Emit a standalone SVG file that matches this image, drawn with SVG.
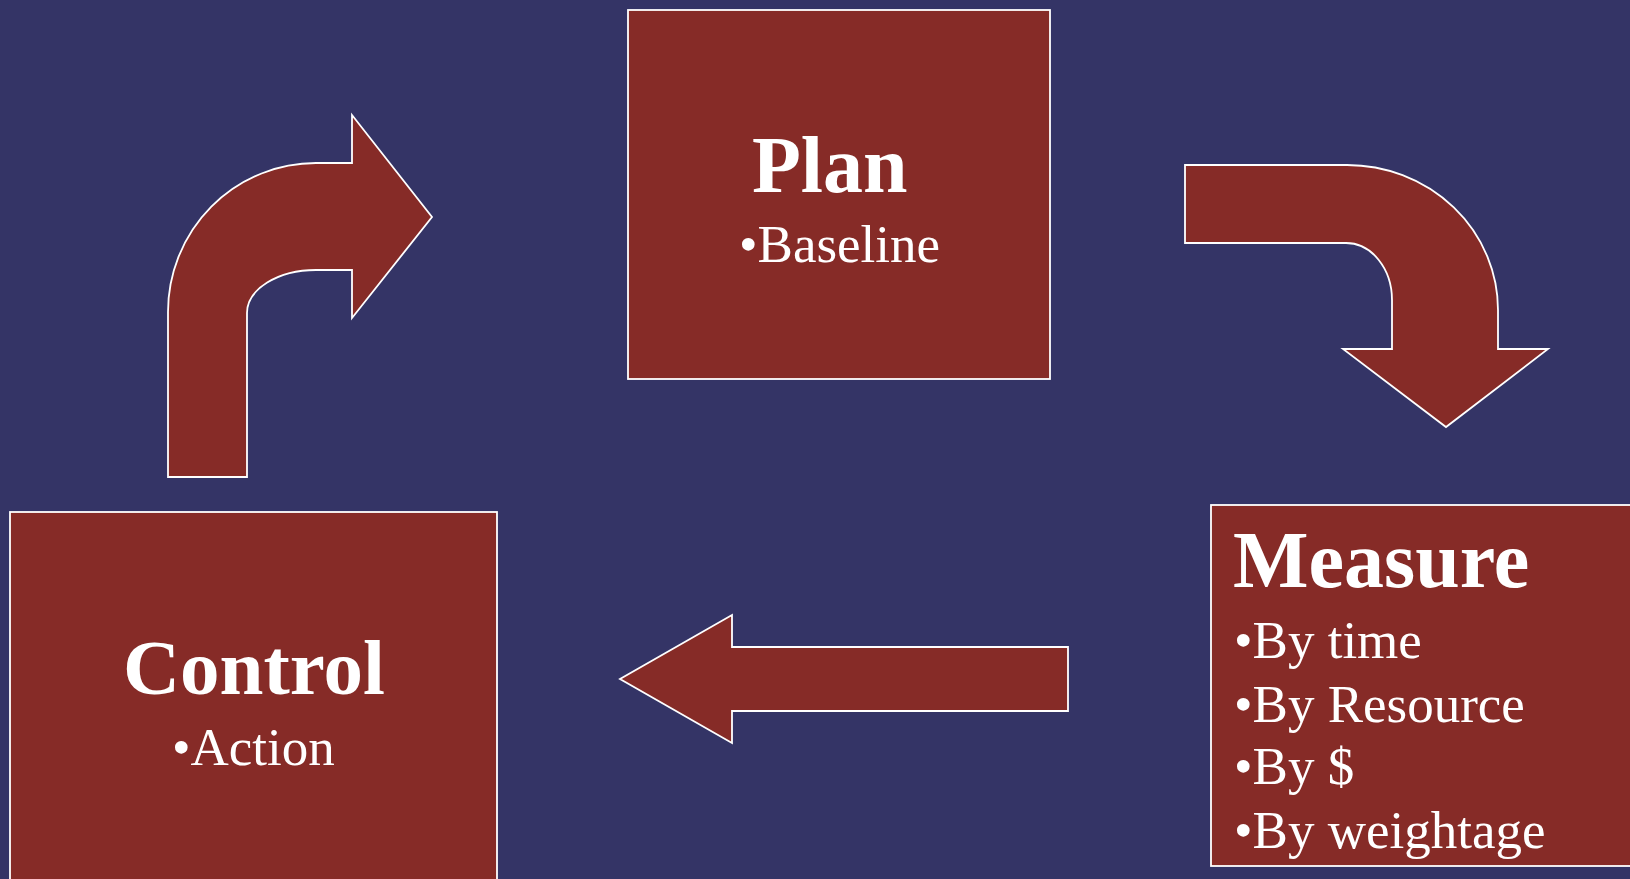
<svg xmlns="http://www.w3.org/2000/svg" width="1630" height="879" viewBox="0 0 1630 879">
<style>
.box{fill:#862B27;stroke:#ffffff;stroke-width:1.8}
.arrow{fill:#862B27;stroke:#ffffff;stroke-width:1.8;stroke-linejoin:miter}
.title{font-family:"Liberation Serif","Times New Roman",serif;font-weight:bold;font-size:80px;fill:#ffffff}
.item{font-family:"Liberation Serif","Times New Roman",serif;font-size:53px;fill:#ffffff}
</style>
<rect x="0" y="0" width="1630" height="879" fill="#343466"/>
<g id="connectors">
<path id="arrow-control-plan" class="arrow" d="M 168 477 L 168 312 A 148 149 0 0 1 316 163 L 352 163 L 352 115 L 432 217 L 352 318 L 352 270 L 316 270 A 69 43 0 0 0 247 313 L 247 477 Z"/>
<path id="arrow-plan-measure" class="arrow" d="M 1185 165 L 1347 165 A 151 145 0 0 1 1498 310 L 1498 349 L 1548 349 L 1446 427 L 1343 349 L 1392 349 L 1392 300 A 46 57 0 0 0 1346 243 L 1185 243 Z"/>
<path id="arrow-measure-control" class="arrow" d="M 1068 647 L 732 647 L 732 615 L 620 679 L 732 743 L 732 711 L 1068 711 Z"/>
</g>
<g id="plan">
<rect class="box" x="628" y="10" width="422" height="369"/>
<text class="title" x="752" y="192">Plan</text>
<text class="item" x="739" y="262">•Baseline</text>
</g>
<g id="measure">
<rect class="box" x="1211" y="505" width="425" height="361"/>
<text class="title" x="1233" y="587">Measure</text>
<text class="item" x="1234" y="658">•By time</text>
<text class="item" x="1234" y="722">•By Resource</text>
<text class="item" x="1234" y="784">•By $</text>
<text class="item" x="1234" y="848">•By weightage</text>
</g>
<g id="control">
<rect class="box" x="10" y="512" width="487" height="380"/>
<text class="title" x="123" y="694" style="font-size:79px">Control</text>
<text class="item" x="172" y="765">•Action</text>
</g>
</svg>
